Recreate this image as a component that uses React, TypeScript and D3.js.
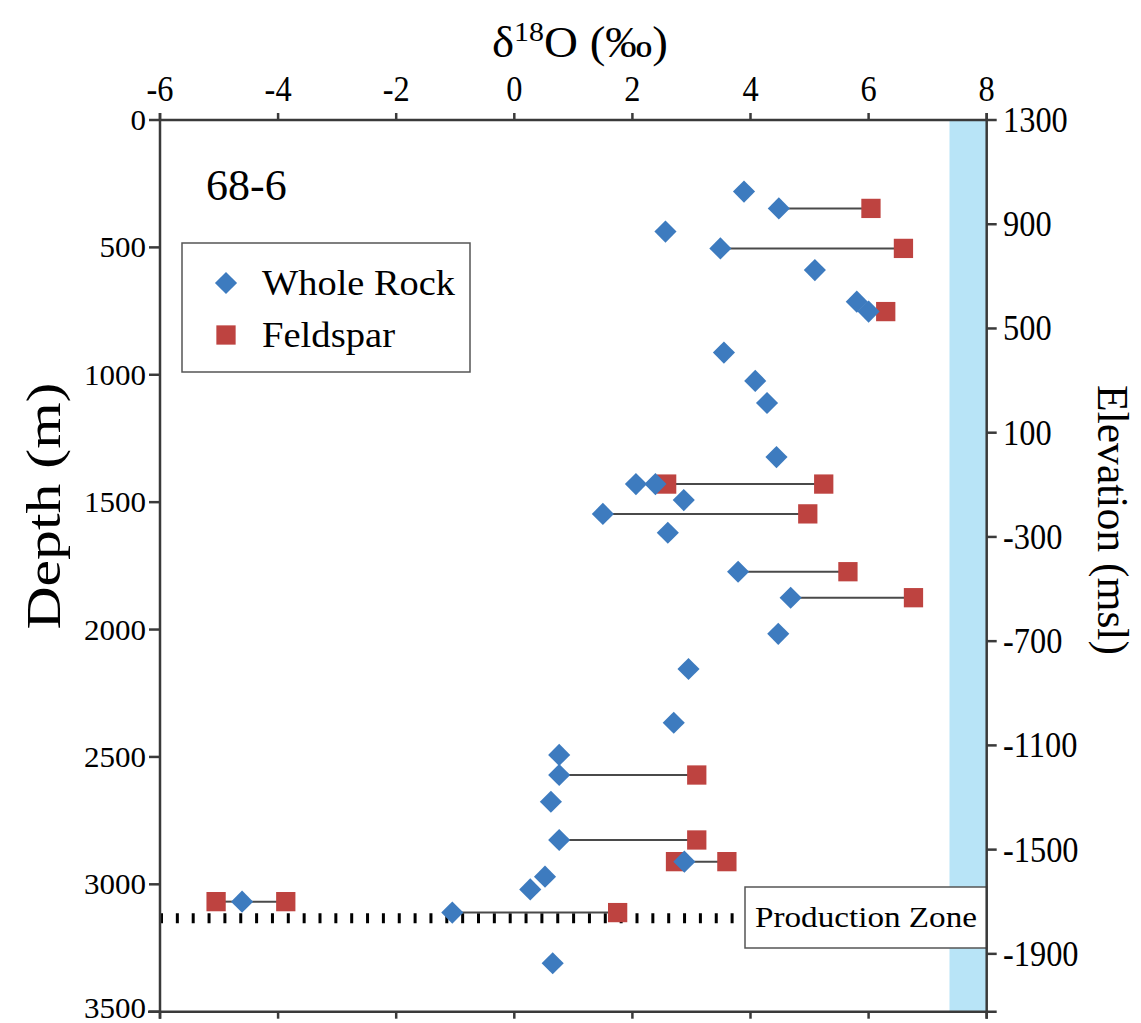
import React from 'react';
import * as d3 from 'd3';

// ---- data ----
const wholeRockDepth = [281, 347, 438, 504, 589, 713, 752, 913, 1024, 1111, 1323, 1429, 1429, 1492, 1546, 1620, 1773, 1875, 2017, 2155, 2366, 2492, 2571, 2676, 2826, 2911, 2970, 3020, 3068, 3111, 3310];
const wholeRockD18O = [3.89, 4.48, 2.56, 3.49, 5.09, 5.8, 6.0, 3.55, 4.08, 4.28, 4.44, 2.06, 2.39, 2.87, 1.5, 2.6, 3.79, 4.68, 4.47, 2.95, 2.7, 0.76, 0.76, 0.62, 0.76, 2.88, 0.52, 0.27, -4.61, -1.05, 0.65];
const feldsparDepth = [347, 504, 752, 1429, 1429, 1546, 1773, 1875, 2571, 2826, 2911, 2911, 3068, 3068, 3111];
const feldsparD18O = [6.04, 6.59, 6.29, 2.58, 5.24, 4.97, 5.65, 6.76, 3.09, 3.09, 2.73, 3.6, -5.05, -3.87, 1.75];
const xTicks = [-6, -4, -2, 0, 2, 4, 6, 8];
const depthTicks = [0, 500, 1000, 1500, 2000, 2500, 3000, 3500];
const elevTicks = [1300, 900, 500, 100, -300, -700, -1100, -1500, -1900];
const productionZoneDepth = 3133;
const bandRange = [7.37, 8];
const wellName = '68-6';
const seriesNames = ['Whole Rock', 'Feldspar'];

const BLUE = '#3d7bbf';
const RED = '#be4340';
const AXIS = '#3a3a3a';
const TIMES = "'Liberation Serif', 'Times New Roman', Times, serif";

export default function App() {
  const W = 1141, H = 1023;
  const L = 160, R = 986.7, T = 120, B = 1011.7;
  const x = d3.scaleLinear().domain([-6, 8]).range([L, R]);
  const y = d3.scaleLinear().domain([0, 3500]).range([T, B]);
  const yE = d3.scaleLinear().domain([1300, -2122]).range([T, B]);

  const diamond = d3.symbol(d3.symbolSquare, 245)() as string;
  const square = d3.symbol(d3.symbolSquare, 372)() as string;

  const wr = wholeRockDepth.map((d, i) => ({ d, v: wholeRockD18O[i] }));
  const fs = feldsparDepth.map((d, i) => ({ d, v: feldsparD18O[i] }));
  const ties = fs.map((f) => {
    const same = wr.filter((w) => w.d === f.d);
    const w = same.reduce((a, b) => (Math.abs(b.v - f.v) < Math.abs(a.v - f.v) ? b : a), same[0]);
    return { d: f.d, v0: w.v, v1: f.v };
  });

  const pzY = y(productionZoneDepth);
  const ts = { fontFamily: TIMES } as React.CSSProperties;

  return (
    <svg width={W} height={H} style={{ position: 'absolute', left: 0, top: 0, background: '#fff', fontFamily: TIMES }}>
      <rect x={0} y={0} width={W} height={H} fill="#fff" />
      {/* blue band */}
      <rect x={x(bandRange[0])} y={T} width={x(bandRange[1]) - x(bandRange[0])} height={B - T} fill="#b8e4f7" />

      {/* production zone dotted line */}
      <line x1={L} x2={742} y1={pzY} y2={pzY} stroke="#000" strokeWidth={10} strokeDasharray="3 12.85" />

      {/* tie lines */}
      {ties.map((t, i) => (
        <line key={'t' + i} x1={x(t.v0)} x2={x(t.v1)} y1={y(t.d)} y2={y(t.d)} stroke="#4a4a4a" strokeWidth={2} />
      ))}
      {/* feldspar */}
      {fs.map((p, i) => (
        <path key={'f' + i} d={square} transform={`translate(${x(p.v)},${y(p.d)})`} fill={RED} />
      ))}
      {/* whole rock */}
      {wr.map((p, i) => (
        <path key={'w' + i} d={diamond} transform={`translate(${x(p.v)},${y(p.d)}) rotate(45)`} fill={BLUE} />
      ))}

      {/* production zone box */}
      <rect x={745} y={887} width={R - 745} height={61} fill="#fff" stroke="#555" strokeWidth={1.5} />
      <text style={ts} x={866} y={927} textAnchor="middle" fontSize={30} textLength={222} lengthAdjust="spacingAndGlyphs">Production Zone</text>

      {/* axes */}
      <g stroke={AXIS} strokeWidth={2.5}>
        <line x1={L} x2={R} y1={T} y2={T} />
        <line x1={L - 12} x2={R + 10} y1={B} y2={B} />
        <line x1={L} x2={L} y1={T - 7} y2={B + 7} />
        <line x1={R} x2={R} y1={T - 7} y2={B + 7} />
        {xTicks.map((t) => (
          <line key={'xt' + t} x1={x(t)} x2={x(t)} y1={T - 7} y2={T} />
        ))}
        {xTicks.map((t) => (
          <line key={'xb' + t} x1={x(t)} x2={x(t)} y1={B} y2={B + 7} />
        ))}
        {depthTicks.map((t) => (
          <line key={'yt' + t} x1={L - 11} x2={L} y1={y(t)} y2={y(t)} />
        ))}
        {elevTicks.map((t) => (
          <line key={'et' + t} x1={R} x2={R + 10} y1={yE(t)} y2={yE(t)} />
        ))}
      </g>

      {/* tick labels */}
      {xTicks.map((t) => (
        <text style={ts} key={'xl' + t} transform={`translate(${x(t)},101) scale(0.9,1)`} textAnchor="middle" fontSize={36}>{t}</text>
      ))}
      {depthTicks.map((t) => (
        <text style={ts} key={'yl' + t} x={146} y={Math.min(y(t) + 10, 1018)} textAnchor="end" fontSize={30} textLength={String(t).length * 15.5} lengthAdjust="spacingAndGlyphs">{t}</text>
      ))}
      {elevTicks.map((t) => (
        <text style={ts} key={'el' + t} transform={`translate(1003,${yE(t) + 12}) scale(0.9,1)`} textAnchor="start" fontSize={36}>{t}</text>
      ))}

      {/* axis titles */}
      <text style={ts} x={580} y={57} textAnchor="middle" fontSize={44} textLength={176} lengthAdjust="spacingAndGlyphs">
        δ<tspan fontSize={28} dy={-16}>18</tspan><tspan dy={16}>O (‰)</tspan>
      </text>
      <text style={ts} transform={`translate(60,506) rotate(-90)`} textAnchor="middle" fontSize={48} textLength={247} lengthAdjust="spacingAndGlyphs">Depth (m)</text>
      <text style={ts} transform={`translate(1098,520) rotate(90)`} textAnchor="middle" fontSize={44} textLength={270} lengthAdjust="spacingAndGlyphs">Elevation (msl)</text>

      {/* well name */}
      <text style={ts} x={206} y={200} fontSize={44}>{wellName}</text>

      {/* legend */}
      <rect x={182} y={243} width={288} height={129} fill="#fff" stroke="#555" strokeWidth={1.5} />
      <path d={diamond} transform="translate(226,283) rotate(45)" fill={BLUE} />
      <path d={square} transform="translate(226,335)" fill={RED} />
      <text style={ts} x={262} y={295} fontSize={36} textLength={193} lengthAdjust="spacingAndGlyphs">{seriesNames[0]}</text>
      <text style={ts} x={262} y={347} fontSize={36} textLength={133} lengthAdjust="spacingAndGlyphs">{seriesNames[1]}</text>
    </svg>
  );
}
